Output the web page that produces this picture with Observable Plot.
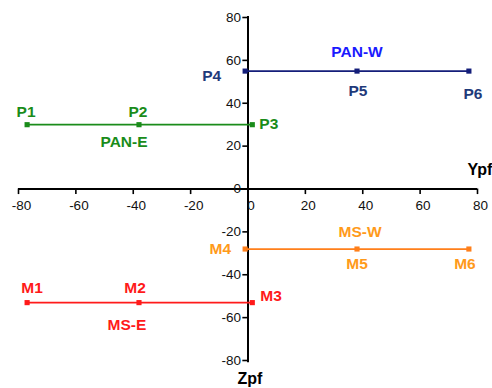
<!DOCTYPE html>
<html>
<head>
<meta charset="utf-8">
<script src="https://cdn.jsdelivr.net/npm/d3@7"></script>
<script src="https://cdn.jsdelivr.net/npm/@observablehq/plot@0.6"></script>
<style>
  html, body { margin: 0; padding: 0; background: #fff; }
</style>
</head>
<body>
<div id="chart"></div>
<script>
// ---- data ----
const pointNames = ["P1","P2","P3","P4","P5","P6","M1","M2","M3","M4","M5","M6"];
const seriesOf   = ["PAN-E","PAN-E","PAN-E","PAN-W","PAN-W","PAN-W","MS-E","MS-E","MS-E","MS-W","MS-W","MS-W"];
const ypf        = [-77, -38, 1.5, -1, 38, 77, -77, -38, 1.5, -1, 38, 77];
const zpf        = [30, 30, 30, 55, 55, 55, -53, -53, -53, -28, -28, -28];
const seriesNames = ["PAN-E","PAN-W","MS-E","MS-W"];
const xTicks = [-80,-60,-40,-20,0,20,40,60,80];
const yTicks = [-80,-60,-40,-20,0,20,40,60,80];

const pts = pointNames.map((n, i) => ({name: n, series: seriesOf[i], x: ypf[i], y: zpf[i]}));

const lineColor  = {"PAN-E": "#1a8c1a", "PAN-W": "#141e7a", "MS-E": "#ff1a1a", "MS-W": "#ff7f1a"};
const labelColor = {"PAN-E": "#1a8c1a", "PAN-W": "#1f3a7a", "MS-E": "#ff1a1a", "MS-W": "#ff9a1a"};
const seriesLabelColor = {"PAN-E": "#1a8c1a", "PAN-W": "#1a1aff", "MS-E": "#ff1a1a", "MS-W": "#ff9a1a"};

const byName = Object.fromEntries(pts.map(d => [d.name, d]));

function pointLabel(name, opts) {
  const d = byName[name];
  return Plot.text([d], {
    x: "x", y: "y", text: "name",
    fill: labelColor[d.series], fontSize: 15.5, fontWeight: "bold",
    ...opts
  });
}
function seriesLabel(series, anchorName, opts) {
  const d = byName[anchorName];
  return Plot.text([d], {
    x: "x", y: "y", text: () => series,
    fill: seriesLabelColor[series], fontSize: 15.5, fontWeight: "bold",
    ...opts
  });
}

const marks = [
  // axes
  Plot.ruleY([0], {x1: -80, x2: 80, stroke: "#000", strokeWidth: 2}),
  Plot.ruleX([0], {y1: -81, y2: 80.5, stroke: "#000", strokeWidth: 2}),
  Plot.ruleX(xTicks, {x: d => d, y1: 0, y2: -2.6, stroke: "#000", strokeWidth: 1.6}),
  Plot.ruleY(yTicks, {y: d => d, x1: -1.8, x2: 0, stroke: "#000", strokeWidth: 1.6}),
  Plot.text(xTicks, {x: d => d, y: 0, text: d => String(d), dy: 17, dx: 3, fontSize: 13.5, fill: "#111"}),
  Plot.text(yTicks, {x: 0, y: d => d, text: d => String(d), dx: -7, textAnchor: "end", fontSize: 13.5, fill: "#111"}),
  Plot.text(["Ypf"], {x: 80, y: 0, text: d => d, textAnchor: "start", dx: -10, dy: -19, fontSize: 16, fontWeight: "bold", fill: "#000"}),
  Plot.text(["Zpf"], {x: 0, y: -80, text: d => d, dx: 2, dy: 18, fontSize: 16, fontWeight: "bold", fill: "#000"}),
  // series lines
  ...seriesNames.map(s => Plot.line(pts.filter(d => d.series === s), {
    x: "x", y: "y", stroke: lineColor[s], strokeWidth: 1.8
  })),
  ...seriesNames.map(s => Plot.dot(pts.filter(d => d.series === s), {
    x: "x", y: "y", symbol: "square", r: 2.9, fill: lineColor[s], stroke: "none"
  })),
  // point labels
  pointLabel("P1", {dx: -1, dy: -13}),
  pointLabel("P2", {dx: -1, dy: -13}),
  pointLabel("P3", {dx: 7, dy: -1, textAnchor: "start"}),
  pointLabel("P4", {dx: -24, dy: 5, textAnchor: "end"}),
  pointLabel("P5", {dx: 1, dy: 20}),
  pointLabel("P6", {dx: 4, dy: 23}),
  pointLabel("M1", {dx: 5, dy: -15}),
  pointLabel("M2", {dx: -4, dy: -15}),
  pointLabel("M3", {dx: 8, dy: -7, textAnchor: "start"}),
  pointLabel("M4", {dx: -14, dy: 0, textAnchor: "end"}),
  pointLabel("M5", {dx: 0, dy: 15}),
  pointLabel("M6", {dx: -4, dy: 15}),
  // series labels
  seriesLabel("PAN-E", "P2", {dx: -15, dy: 17}),
  seriesLabel("PAN-W", "P5", {dx: 0, dy: -19}),
  seriesLabel("MS-E", "M2", {dx: -12, dy: 22}),
  seriesLabel("MS-W", "M5", {dx: 3, dy: -17})
];

const chart = Plot.plot({
  width: 492,
  height: 388,
  marginLeft: 18,
  marginRight: 15,
  marginTop: 17,
  marginBottom: 28,
  x: {domain: [-80, 80], axis: null},
  y: {domain: [-80, 80], axis: null},
  style: {fontFamily: "'Liberation Sans', Arial, sans-serif", background: "#fff", overflow: "visible"},
  marks
});
document.getElementById("chart").appendChild(chart);
</script>
</body>
</html>
